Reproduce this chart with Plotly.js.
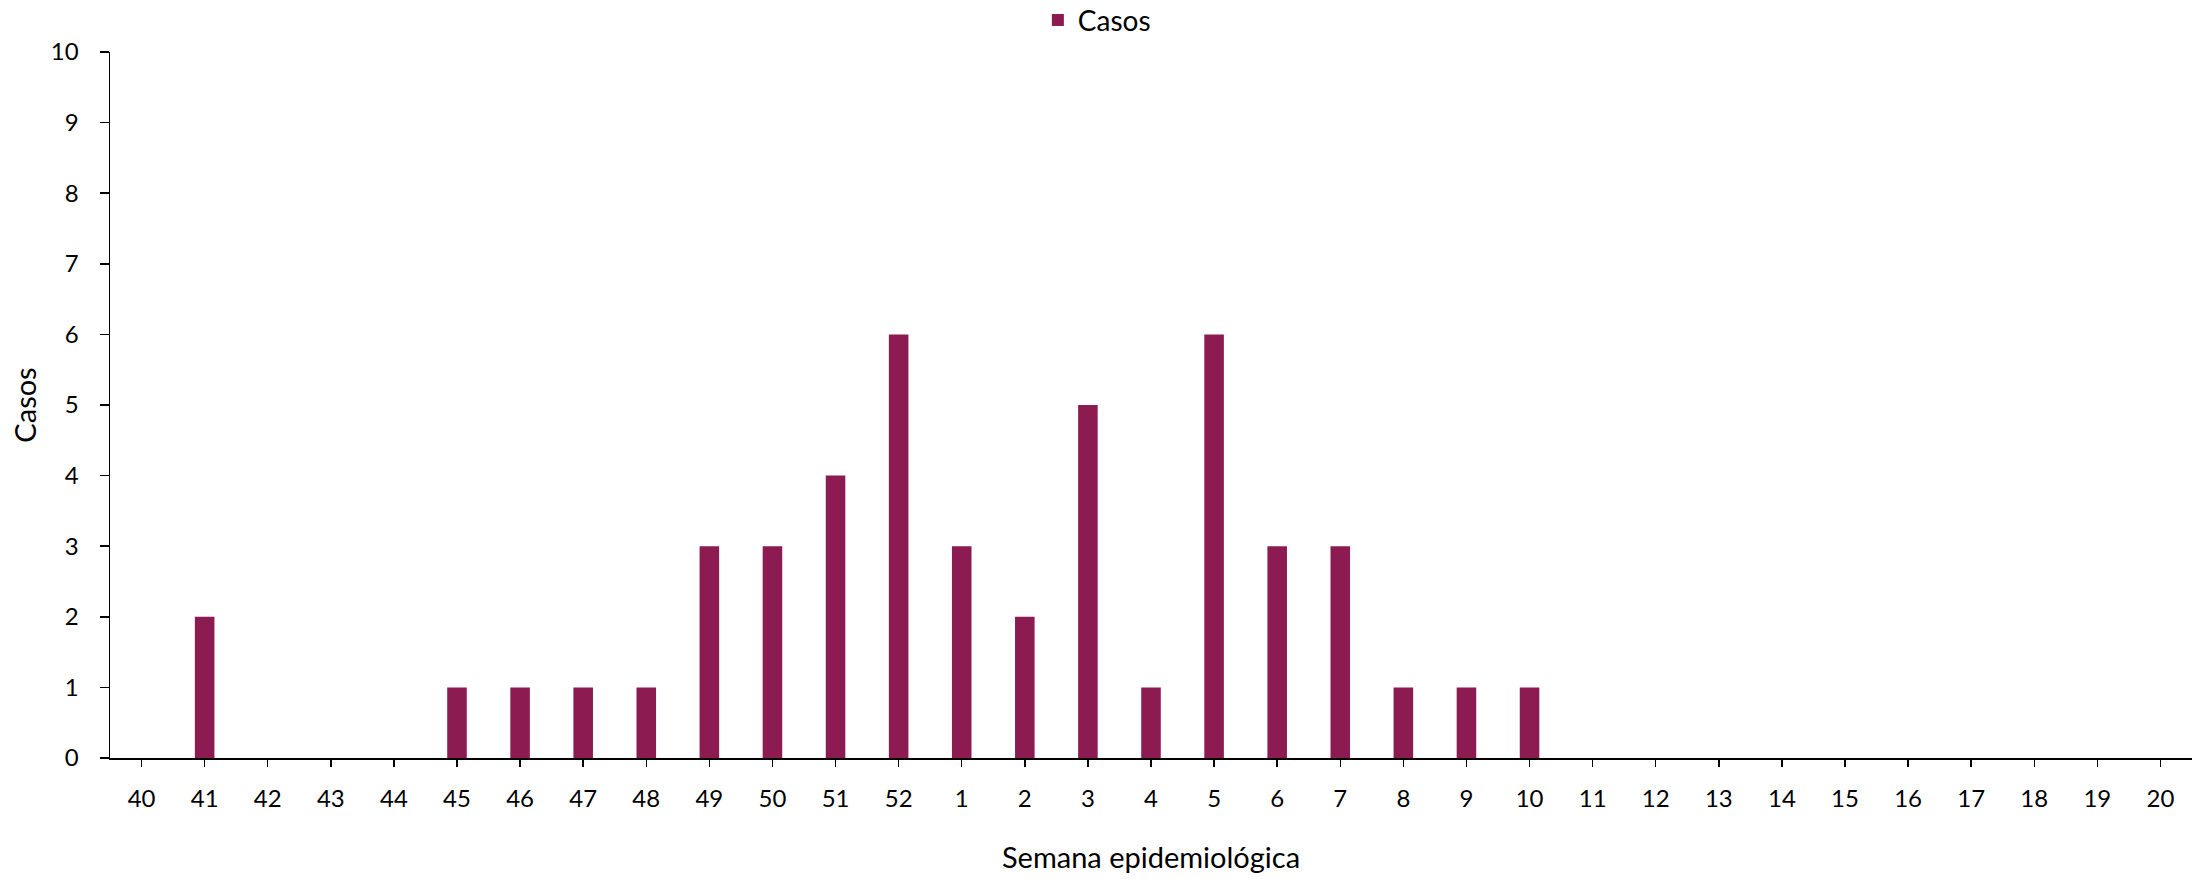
<!DOCTYPE html>
<html>
<head>
<meta charset="utf-8">
<script src="https://cdn.plot.ly/plotly-3.0.1.min.js"></script>
<style>html,body{margin:0;padding:0;background:#fff;}#chart{width:2192px;height:879px;}</style>
</head>
<body>
<div id="chart"></div>
<script>
const semanas = ["40","41","42","43","44","45","46","47","48","49","50","51","52","1","2","3","4","5","6","7","8","9","10","11","12","13","14","15","16","17","18","19","20"];
const casos = [0,2,0,0,0,1,1,1,1,3,3,4,6,3,2,5,1,6,3,3,1,1,1,0,0,0,0,0,0,0,0,0,0];
const yTicks = [0,1,2,3,4,5,6,7,8,9,10];

const fam = "Lato, 'Open Sans', sans-serif";
const font = {family: fam, size: 24, color: "#000"};
const titleFont = {family: fam, size: 29, color: "#000"};

Plotly.newPlot("chart", [{
  type: "bar",
  x: semanas,
  y: casos,
  name: "Casos",
  width: 0.31,
  marker: {color: "#8C1B52"},
  showlegend: true
}], {
  width: 2192, height: 879,
  margin: {l: 110, r: 0, t: 52, b: 121, autoexpand: false},
  paper_bgcolor: "#fff", plot_bgcolor: "#fff",
  font: font,
  showlegend: true,
  legend: {orientation: "h", x: 0.474, xanchor: "center", y: 1.045, yanchor: "middle",
           font: {family: fam, size: 28, color: "#000"}, itemwidth: 30},
  xaxis: {
    type: "category",
    range: [-0.5, 32.5],
    showline: true, linecolor: "#000", linewidth: 1.5,
    ticks: "outside", ticklen: 7, tickwidth: 1.5, tickcolor: "#000",
    showgrid: false, zeroline: false,
    tickfont: font,
    ticklabelstandoff: 12,
    title: {text: "Semana epidemiológica", font: titleFont, standoff: 36},
    automargin: false
  },
  yaxis: {
    range: [0, 10],
    tickvals: yTicks,
    showline: true, linecolor: "#000", linewidth: 1.5,
    ticks: "outside", ticklen: 9, tickwidth: 1.5, tickcolor: "#000",
    showgrid: false, zeroline: false,
    tickfont: font,
    ticklabelstandoff: 16,
    title: {text: "Casos", font: titleFont, standoff: 5},
    automargin: false
  }
}, {displayModeBar: false, staticPlot: true});
</script>
</body>
</html>
